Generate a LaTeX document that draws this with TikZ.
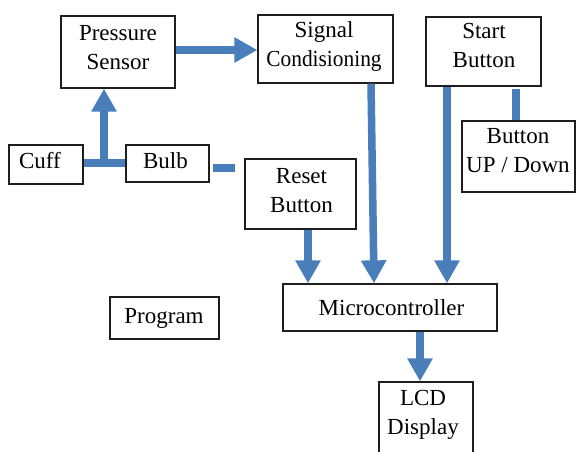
\documentclass[tikz,border=0pt]{standalone}
\usepackage{fontspec}
\usepackage{graphicx}
\setmainfont{Liberation Serif}
\usetikzlibrary{arrows.meta}
\definecolor{arrowblue}{RGB}{74,126,187}
\definecolor{boxline}{RGB}{30,30,30}
\begin{document}
\begin{tikzpicture}[x=1pt,y=-1pt,
  box/.style={draw=boxline, line width=1.3pt, rectangle, inner sep=0pt},
  txt/.style={inner sep=0pt, align=center, font=\fontsize{23}{29}\selectfont},
  link/.style={draw=arrowblue, line width=7.5pt},
  conn/.style={link, -{Triangle[width=24pt,length=23pt]}},
]
\useasboundingbox (0,0) rectangle (576,451);
\clip (0,0) rectangle (576,451);

% boxes
\node[box, minimum width=114pt, minimum height=72pt] (ps) at (118,52) {};
\node[box, minimum width=135pt, minimum height=68pt] (sc) at (325.5,49) {};
\node[box, minimum width=115pt, minimum height=69pt] (sb) at (483.5,51.5) {};
\node[box, minimum width=113pt, minimum height=71pt] (ud) at (518.5,156.5) {};
\node[box, minimum width=74pt, minimum height=39pt] (cuff) at (46,164.5) {};
\node[box, minimum width=83pt, minimum height=37pt] (bulb) at (167.5,163.5) {};
\node[box, minimum width=111pt, minimum height=70pt] (rb) at (300.5,194) {};
\node[box, minimum width=109pt, minimum height=42pt] (prog) at (164.5,318) {};
\node[box, minimum width=214pt, minimum height=47pt] (mc) at (390,307.5) {};
\node[box, minimum width=94pt, minimum height=78pt] (lcd) at (426,421) {};

% texts
\node[txt] (pst) at (118,49.2) {\strut Pressure\\\strut Sensor};
\node[txt] (sct) at (324,46.2) {\strut Signal\\\strut\scalebox{0.93}[1]{Condisioning}};
\node[txt] (sbt) at (484,46.7) {\strut Start\\\strut Button};
\node[txt] (udt) at (518,152.2) {\strut Button\\\strut UP / Down};
\node[txt] (cufft) at (40,162.2) {\strut Cuff};
\node[txt] (bulbt) at (165.5,162.2) {\strut Bulb};
\node[txt] (rbt) at (301.5,191.7) {\strut Reset\\\strut Button};
\node[txt] (progt) at (164,317.2) {\strut Program};
\node[txt] (mct) at (391.5,309.2) {\strut Microcontroller};
\node[txt] (lcdt) at (423,414.2) {\strut LCD\\\strut Display};

% connectors
\coordinate (j) at (104,163);
\coordinate (bs) at (235,168);
\draw[conn] (ps.east |- 0,50) -- (sc.west |- 0,50);
\draw[link] (cuff.east |- j) -- (bulb.west |- j);
\draw[conn] (j) -- (j |- ps.south);
\draw[link] ([xshift=3pt]bulb.east |- bs) -- (bs);
\draw[conn] (sc.south -| 371,0) -- (mc.north -| 374,0);
\draw[conn] (sb.south -| 447,0) -- (mc.north -| 447,0);
\draw[link] ([yshift=-2pt]sb.south -| 516,0) -- (ud.north -| 516,0);
\draw[conn] (rb.south -| 308,0) -- (mc.north -| 308,0);
\draw[conn] (mc.south -| 420,0) -- (lcd.north -| 420,0);
\end{tikzpicture}
\end{document}
